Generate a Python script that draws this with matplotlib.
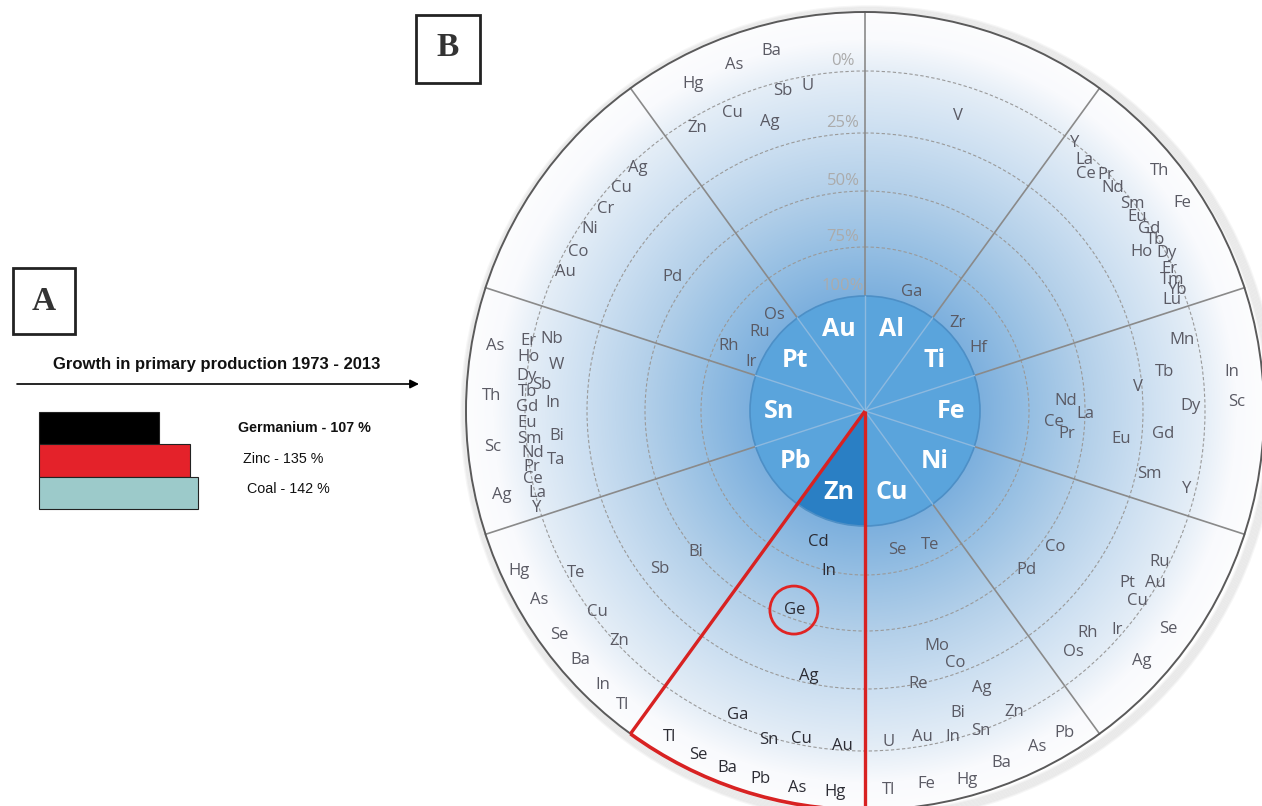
import numpy as np
import matplotlib
matplotlib.use('Agg')
import matplotlib.pyplot as plt
from matplotlib.patches import Circle, Wedge, Rectangle, Arc

# ---------------- Panel A data ----------------
bar_names = ['Germanium', 'Zinc', 'Coal']
bar_values = [107, 135, 142]
bar_colors = ['#000000', '#e4222a', '#9ccaca']
bar_title = 'Growth in primary production 1973 - 2013'

# ---------------- Panel B data ----------------
# host metals, clockwise from the top
hosts = ['Al', 'Ti', 'Fe', 'Ni', 'Cu', 'Zn', 'Pb', 'Sn', 'Pt', 'Au']
highlight_host = 'Zn'
ring_pcts = [0, 25, 50, 75, 100]

# companions: symbol, polar angle (deg), by-product share (%) (negative = outer band)
au_el = ['Hg', 'As', 'Ba', 'Sb', 'U', 'Zn', 'Cu', 'Ag']
au_ang = [117.7, 110.7, 104.6, 104.4, 100.1, 120.7, 114.0, 108.2]
au_pct = [-12, -12, -13, 4, 4, 4.4, 5.5, 14.4]

pt_el = ['Ag', 'Cu', 'Cr', 'Ni', 'Co', 'Au', 'Pd', 'Os', 'Ru', 'Rh', 'Ir']
pt_ang = [133.0, 137.5, 142.0, 146.5, 151.0, 155.1, 145.2, 133.2, 143.0, 154.5, 156.7]
pt_pct = [3, 4.1, 4.6, 4.1, 4.8, 4.1, 43.5, 91.5, 91.6, 81.8, 95.4]

sn_el = ['As', 'Er', 'Nb', 'Ho', 'W', 'Dy', 'Sb', 'Th', 'Tb', 'Gd', 'In', 'Eu', 'Sm',
         'Bi', 'Sc', 'Nd', 'Ta', 'Pr', 'Ce', 'Ag', 'La', 'Y']
sn_ang = [170.0, 168.3, 167.0, 170.9, 171.5, 174.1, 175.4, 177.7, 176.8, 179.3, 178.5,
          182.0, 184.8, 184.6, 185.5, 187.2, 189.0, 189.5, 191.6, 193.0, 194.0, 196.5]
sn_pct = [-14.4, -1.7, 7.6, -0.5, 11.1, 0.1, 6.5, -13.8, 0.6, 0.8, 11.3, 0.7, 1.1,
          12.5, -13.6, 2.2, 11.0, 0.9, 0.4, -13.1, 0.8, -0.8]

pb_el = ['Hg', 'Te', 'Sb', 'Bi', 'As', 'Cu', 'Se', 'Zn', 'Ba', 'In', 'Tl']
pb_ang = [204.8, 209.3, 217.6, 219.8, 210.1, 216.9, 216.2, 223.1, 221.1, 226.3, 230.5]
pb_pct = [-16.6, 3.5, 33.3, 50, -14.8, 2.0, -15.8, 1.3, -15.5, -15.8, -16.4]

zn_el = ['Cd', 'In', 'Ge', 'Ag', 'Ga', 'Tl', 'Sn', 'Cu', 'Au', 'Se', 'Ba', 'Pb', 'As', 'Hg']
zn_ang = [250.3, 257.3, 250.6, 258.1, 247.3, 239.0, 253.7, 259.1, 266.2, 244.1, 248.9,
          254.2, 259.8, 265.5]
zn_pct = [87.7, 75, 54, 28.1, 4.2, -16.3, -1.1, 2.4, 1.7, -17.1, -17.2, -17.1, -17.4, -17.0]

cu_el = ['Se', 'Te', 'Mo', 'Co', 'Re', 'Ag', 'Bi', 'Zn', 'U', 'Au', 'In', 'Sn', 'Tl', 'Fe',
         'Hg', 'Ba', 'As', 'Pb']
cu_ang = [283.0, 295.9, 287.0, 289.7, 281.0, 292.9, 287.1, 296.3, 274.0, 279.9, 285.1,
          289.9, 273.6, 279.4, 285.5, 291.1, 297.1, 301.8]
cu_pct = [85.9, 82.7, 38.9, 29.5, 25, 15.9, 9.7, 1.7, 3.3, 3.7, 0.9, -0.2, -16.0, -15.4,
          -17.2, -15.1, -15.1, -15.8]

ni_el = ['Co', 'Pd', 'Ru', 'Pt', 'Au', 'Cu', 'Rh', 'Ir', 'Os', 'Se', 'Ag']
ni_ang = [324.4, 315.5, 332.9, 326.7, 329.3, 325.1, 315.1, 319.0, 310.8, 324.3, 317.9]
ni_pct = [44.1, 47.0, 3.5, 10.7, 1.1, 3.3, 10.2, 2.5, 8.7, -13.4, -13.3]

fe_el = ['Mn', 'Tb', 'In', 'V', 'Sc', 'Nd', 'La', 'Dy', 'Ce', 'Pr', 'Eu', 'Gd', 'Sm', 'Y']
fe_ang = [12.6, 7.4, 6.1, 5.0, 1.4, 2.8, -0.8, 0.9, -3.3, -6.5, -6.2, -4.4, -12.5, -13.6]
fe_pct = [6.1, 15.5, -11.7, 26.7, -12.9, 58.4, 50, 5.7, 63.7, 57.5, 33.8, 16.6, 19.8, 3.5]

ti_el = ['Zr', 'Hf', 'Y', 'La', 'Ce', 'Pr', 'Nd', 'Sm', 'Eu', 'Gd', 'Tb', 'Ho', 'Dy', 'Er',
         'Tm', 'Yb', 'Lu', 'Th', 'Fe']
ti_ang = [43.4, 29.1, 51.9, 48.8, 47.0, 44.4, 42.0, 37.8, 35.5, 32.7, 30.5, 29.9, 27.6,
          25.0, 23.1, 21.1, 19.9, 39.1, 33.3]
ti_pct = [93.4, 92.7, -0.2, 2.5, 6.4, 1.1, 2.6, 0.9, 2.4, 1.1, 1.3, 8.3, -0.3, 1.5, 2.5,
          1.8, 5.4, -16.2, -15.8]

al_el = ['Ga', 'V']
al_ang = [68.4, 72.5]
al_pct = [93.4, 12.4]

companions = {
    'Au': (au_el, au_ang, au_pct), 'Pt': (pt_el, pt_ang, pt_pct),
    'Sn': (sn_el, sn_ang, sn_pct), 'Pb': (pb_el, pb_ang, pb_pct),
    'Zn': (zn_el, zn_ang, zn_pct), 'Cu': (cu_el, cu_ang, cu_pct),
    'Ni': (ni_el, ni_ang, ni_pct), 'Fe': (fe_el, fe_ang, fe_pct),
    'Ti': (ti_el, ti_ang, ti_pct), 'Al': (al_el, al_ang, al_pct),
}
circled = ('Zn', 'Ge')

# ---------------- layout (pixels) ----------------
W, H = 1262, 806
CX, CY = 865.0, 411.0
R_OUT = 399.0
R_IN = 115.0
RING_R = [340.0, 278.0, 220.0, 164.0, 115.0]   # radius of 0,25,50,75,100 %

def pct_to_r(p):
    p = np.asarray(p, dtype=float)
    r = np.interp(p, ring_pcts, RING_R)
    slope = (RING_R[0] - RING_R[1]) / (ring_pcts[1] - ring_pcts[0])
    return np.where(p < 0, RING_R[0] - p * slope, r)

def polar(ang, r):
    a = np.deg2rad(np.asarray(ang, dtype=float))
    return CX + r * np.cos(a), CY - r * np.sin(a)

fig = plt.figure(figsize=(W / 100, H / 100), dpi=100)
ax = fig.add_axes([0, 0, 1, 1])
ax.set_xlim(0, W)
ax.set_ylim(H, 0)
ax.set_aspect('equal')
ax.axis('off')

EL_FONT = ['Open Sans', 'DejaVu Sans']

# shadow of the wheel
for i in range(8):
    ax.add_patch(Circle((CX + 4, CY + 3), R_OUT + i * 1.2, facecolor='none',
                        edgecolor='black', alpha=0.035, lw=2, zorder=0.5))

# radial gradient background
n = 820
xs = np.linspace(CX - 410, CX + 410, n)
ys = np.linspace(CY - 410, CY + 410, n)
XX, YY = np.meshgrid(xs, ys)
RR = np.hypot(XX - CX, YY - CY)
stops_r = [110, 165, 220, 280, 340, 372, 420]
stops_c = np.array([[122, 174, 221], [150, 191, 227], [178, 207, 233],
                    [204, 223, 241], [229, 238, 247], [249, 250, 253], [255, 255, 255]]) / 255.0
img = np.dstack([np.interp(RR, stops_r, stops_c[:, k]) for k in range(3)])
ax.add_patch(Circle((CX, CY), R_OUT, facecolor='white', edgecolor='none', zorder=0.8))
im = ax.imshow(img, extent=(CX - 410, CX + 410, CY + 410, CY - 410), origin='upper',
               zorder=1, interpolation='bilinear')
im.set_clip_path(Circle((CX, CY), R_OUT, transform=ax.transData))

# dashed rings
for r in RING_R[:-1]:
    ax.add_patch(Circle((CX, CY), r, facecolor='none', edgecolor='#9a9a9a', lw=0.8,
                        ls=(0, (3, 2)), zorder=2))

# sector dividers (outside)
nh = len(hosts)
bound_angles = [90 - 360 / nh * k for k in range(nh)]
for a in bound_angles:
    x0, y0 = polar(a, R_IN)
    x1, y1 = polar(a, R_OUT)
    ax.plot([x0, x1], [y0, y1], color='#8a8a8a', lw=1.2, zorder=3)

# inner host circle
for i, h in enumerate(hosts):
    a1 = 90 - 360 / nh * (i + 1)
    a2 = 90 - 360 / nh * i
    col = '#2a7fc4' if h == highlight_host else '#5aa4dc'
    ax.add_patch(Wedge((CX, CY), R_IN, -a2, -a1, facecolor=col, edgecolor='none', zorder=4))
ax.add_patch(Circle((CX, CY), R_IN, facecolor='none', edgecolor='#4d8fc6', lw=1.2, zorder=4.5))
for a in bound_angles:
    x1, y1 = polar(a, R_IN)
    ax.plot([CX, x1], [CY, y1], color='#8db9df', lw=1.0, zorder=5)

# host labels
for i, h in enumerate(hosts):
    a = 72 - 360 / nh * i
    x, y = polar(a, 86)
    ax.text(x, y, h, color='white', fontsize=18, fontweight='bold', family=EL_FONT,
            ha='center', va='center', zorder=9)

# outer circle
ax.add_patch(Circle((CX, CY), R_OUT, facecolor='none', edgecolor='#5a5a5a', lw=1.4, zorder=6))

# percent labels
for p, r in zip(ring_pcts, RING_R):
    ax.text(CX - 22, CY - r - 10, f'{p}%', color='#ababab', fontsize=12, family=EL_FONT,
            ha='center', va='center', zorder=7)

# companion labels
for h, (els, angs, pcts) in companions.items():
    xx, yy = polar(angs, pct_to_r(pcts))
    col = '#2c2c34' if h == highlight_host else '#5a5a64'
    for s, x, y in zip(els, xx, yy):
        ax.text(x, y, s, color=col, fontsize=12, family=EL_FONT,
                ha='center', va='center', zorder=8)
        if (h, s) == circled:
            ax.add_patch(Circle((x - 1, y), 24, facecolor='none', edgecolor='#e02424',
                                lw=2.0, zorder=8))

# red wedge outline for highlighted host
k = hosts.index(highlight_host)
a_hi = 90 - 360 / nh * k
a_lo = 90 - 360 / nh * (k + 1)
for a in (a_hi, a_lo):
    x1, y1 = polar(a, R_OUT)
    ax.plot([CX, x1], [CY, y1], color='#d82222', lw=2.4, zorder=7.5, solid_capstyle='butt')
ax.add_patch(Arc((CX, CY), 2 * R_OUT, 2 * R_OUT, theta1=-a_hi, theta2=-a_lo,
                 color='#d82222', lw=2.6, zorder=7.5))

# panel boxes
ax.add_patch(Rectangle((13, 268), 62, 66, facecolor='none', edgecolor='#222222', lw=2, zorder=10))
ax.text(44, 301, 'A', fontsize=24, fontweight='bold', family=['Liberation Serif', 'DejaVu Serif'],
        color='#333333', ha='center', va='center', zorder=10)
ax.add_patch(Rectangle((416, 15), 64, 68, facecolor='none', edgecolor='#222222', lw=2, zorder=10))
ax.text(448, 48, 'B', fontsize=24, fontweight='bold', family=['Liberation Serif', 'DejaVu Serif'],
        color='#333333', ha='center', va='center', zorder=10)

# panel A title + arrow
ax.text(217, 364, bar_title, fontsize=12, fontweight='bold',
        family=['Liberation Sans', 'DejaVu Sans'], ha='center', va='center', color='#111111')
ax.annotate('', xy=(419, 384), xytext=(17, 384),
            arrowprops=dict(arrowstyle='-|>', color='black', lw=1.2, mutation_scale=13,
                            shrinkA=0, shrinkB=0))

# panel A bar labels
label_x = [238, 243, 247]
label_y = [428, 459, 489]
for i, (nm, v) in enumerate(zip(bar_names, bar_values)):
    ax.text(label_x[i], label_y[i], f'{nm} - {v} %', fontsize=10.3,
            fontweight='bold' if i == 0 else 'normal',
            family=['Liberation Sans', 'DejaVu Sans'], ha='left', va='center', color='#111111')

# panel A bars
bax = fig.add_axes([39 / W, 1 - 509 / H, 179 / W, 97 / H])
bars = bax.barh(range(len(bar_values)), bar_values, height=1.0, color=bar_colors,
                edgecolor='#222222', lw=0.8)
for b in bars:
    b.set_clip_on(False)
bax.set_xlim(0, 160)
bax.set_ylim(len(bar_values) - 0.5, -0.5)
bax.axis('off')

fig.savefig('out.png', dpi=100)
